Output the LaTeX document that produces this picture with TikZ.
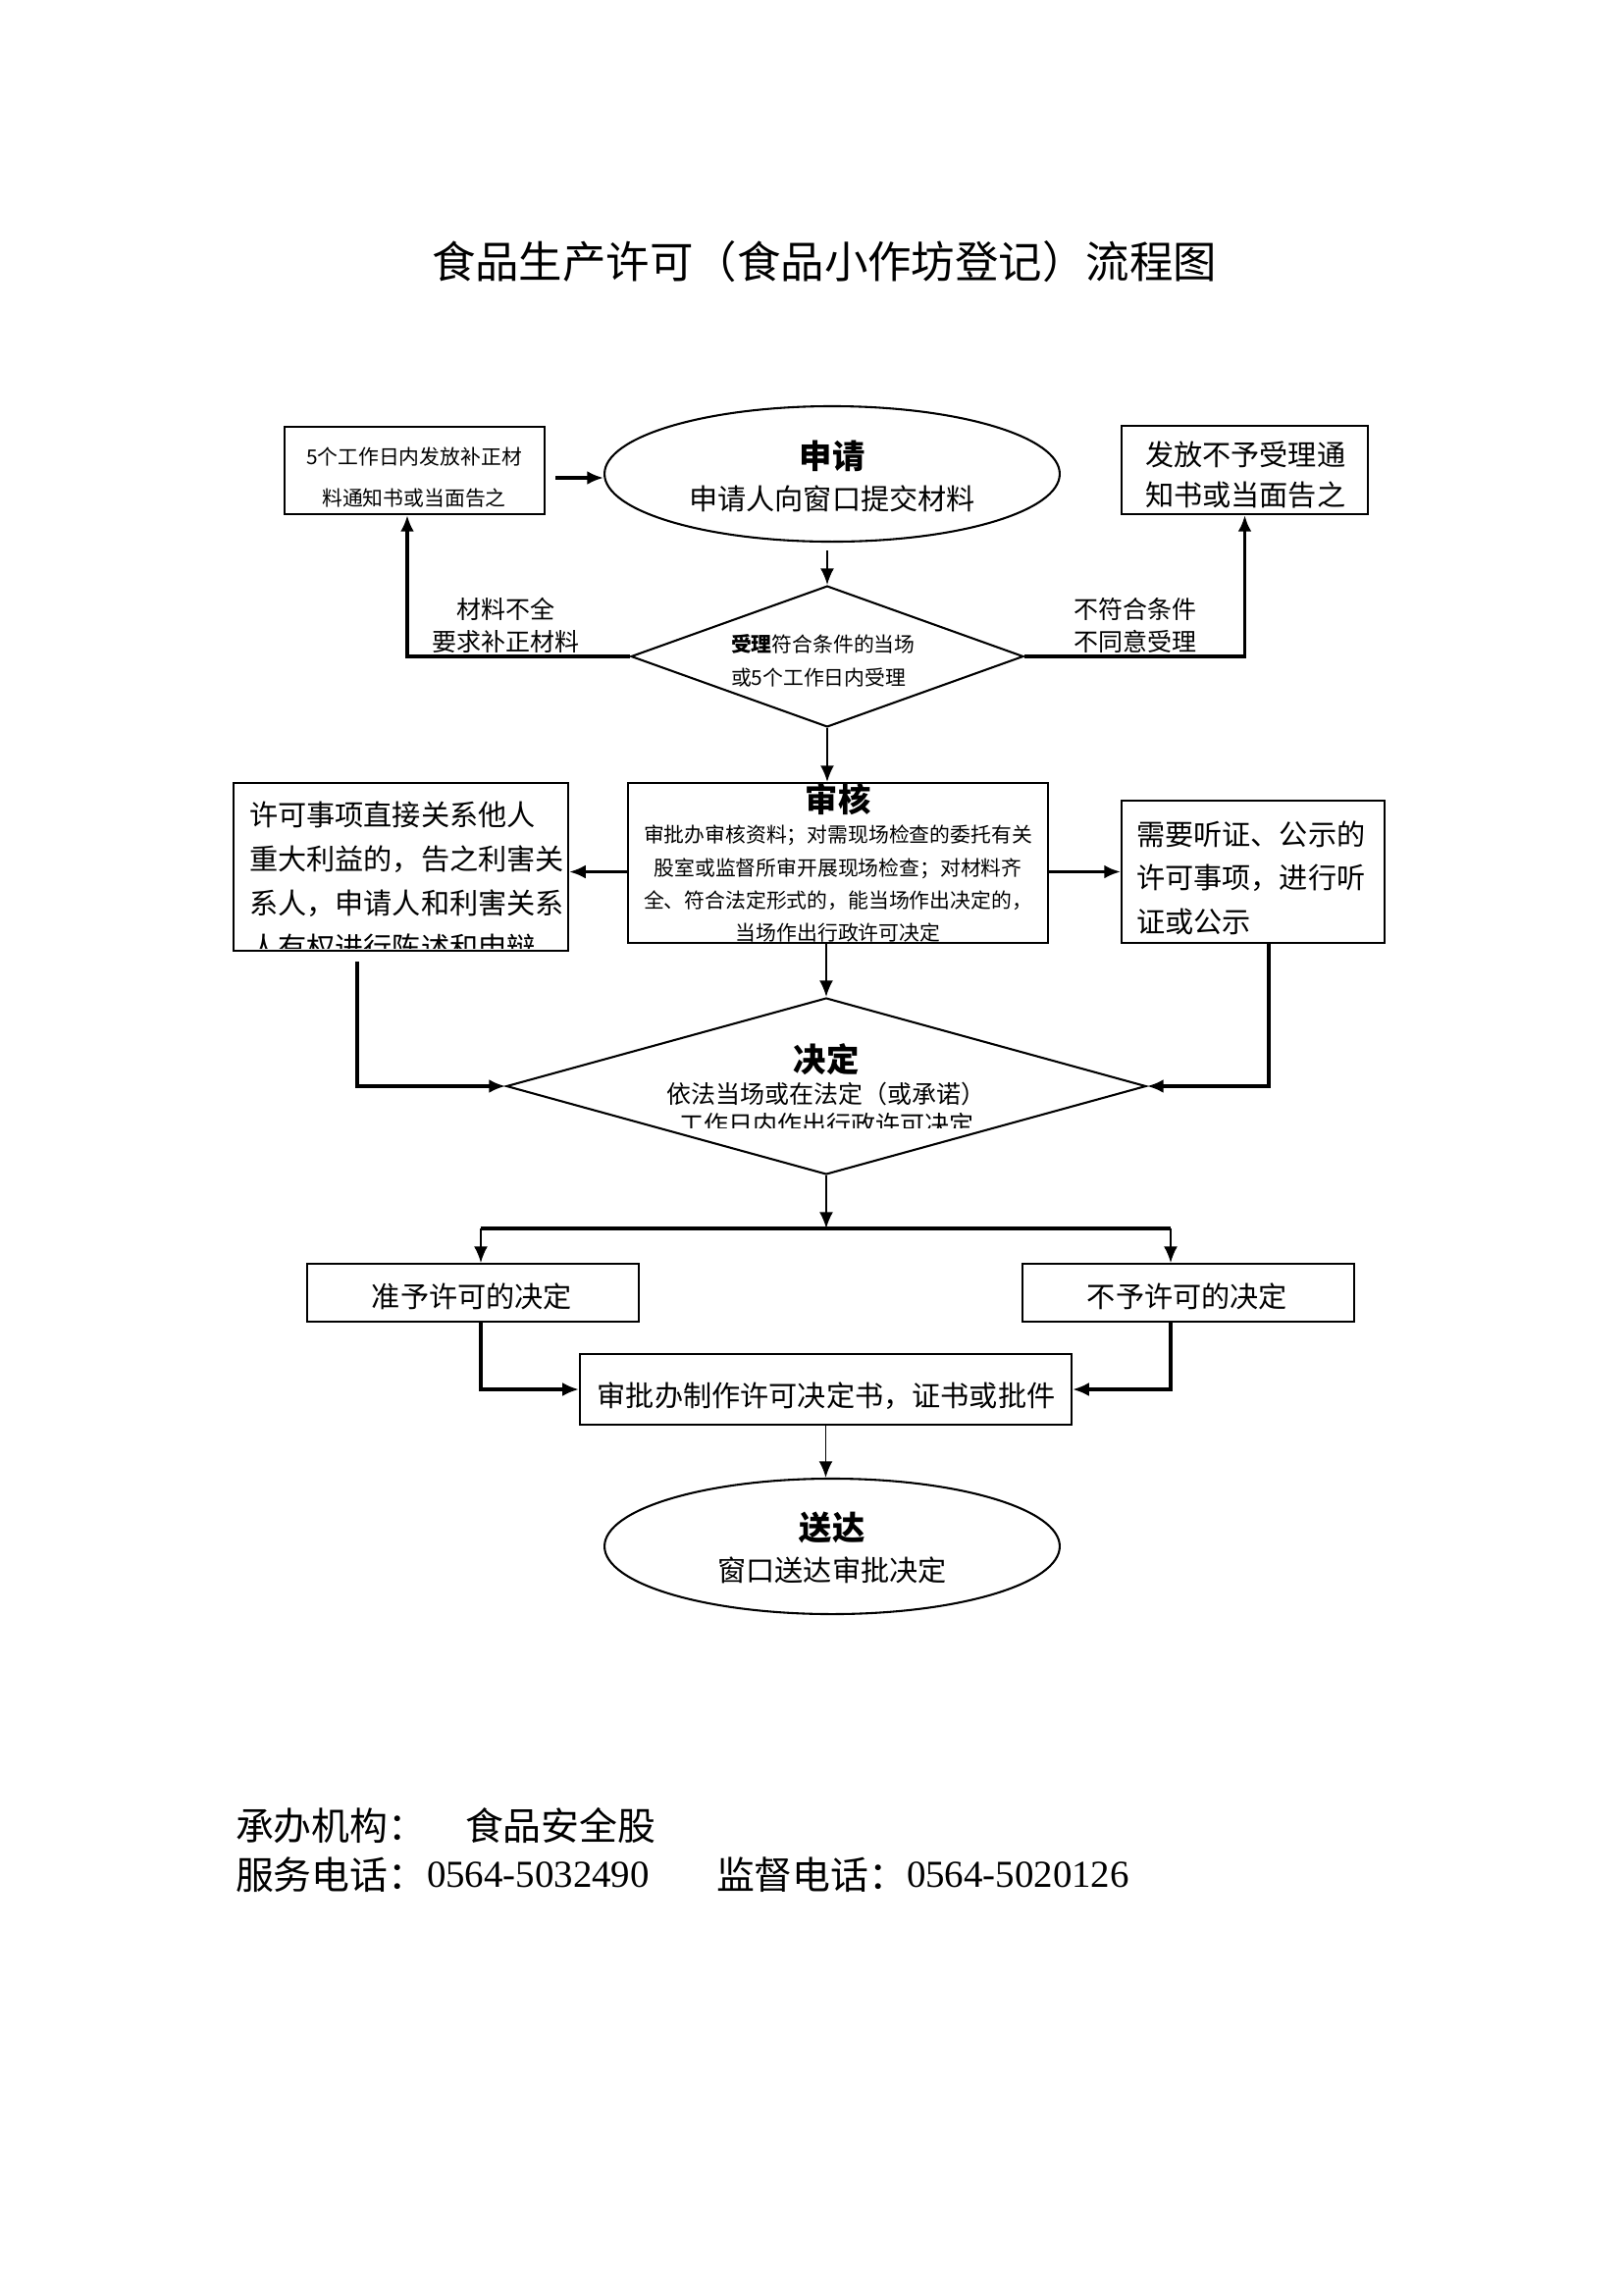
\documentclass[tikz,border=0pt]{standalone}
\usepackage{fontspec}
\setmainfont{Noto Sans CJK SC}
\newfontfamily\digitfont{Liberation Serif}
\usetikzlibrary{shapes.geometric,arrows.meta,calc}
\begin{document}
\begin{tikzpicture}[x=0.36pt,y=-0.36pt,
  box/.style={draw,line width=0.75pt,rectangle,inner sep=0pt},
  oval/.style={draw,line width=0.75pt,ellipse,inner sep=0pt,minimum width=167pt,minimum height=49.7pt},
  dia/.style={draw,line width=0.75pt,diamond,inner sep=0pt},
  txt/.style={inner sep=0pt,outer sep=0pt},
  conn/.style={line width=0.7pt},
  arr/.style={line width=0.7pt,-{Latex[length=6pt,width=5pt]}},
  arrmid/.style={line width=1.1pt,-{Latex[length=6pt,width=5pt]}},
  arrthick/.style={line width=1.4pt,-{Latex[length=6pt,width=5pt]}},
  headfont/.style={font=\fontsize{12}{14}\selectfont\bfseries},
  bodyfont/.style={font=\fontsize{10.5}{12}\selectfont},
]
\useasboundingbox (0,0) rectangle (1654,2339);

% title
\node[txt,font=\fontsize{16}{18}\selectfont] (title) at (840,267) {食品生产许可（食品小作坊登记）流程图};

% shapes
\node[box,minimum width=95.4pt,minimum height=32.04pt] (A) at (422.5,479.5) {};
\node[oval] (S1) at (848,483) {};
\node[box,minimum width=90.4pt,minimum height=32.4pt] (B) at (1268.5,479) {};
\node[dia,minimum width=144pt,minimum height=51.8pt] (D1) at (843,669) {};
\node[box,minimum width=154.1pt,minimum height=58.7pt] (C) at (854,879.5) {};
\node[box,minimum width=122.8pt,minimum height=61.6pt] (D) at (408.5,883.5) {};
\node[box,minimum width=96.5pt,minimum height=52.2pt] (E) at (1277,888.5) {};
\node[dia,minimum width=234.7pt,minimum height=64.8pt] (F) at (842,1107) {};
\node[box,minimum width=121.7pt,minimum height=21.2pt] (G) at (482,1317.5) {};
\node[box,minimum width=121.7pt,minimum height=21.2pt] (H) at (1211,1317.5) {};
\node[box,minimum width=180.4pt,minimum height=25.9pt] (I) at (841.5,1416) {};
\node[oval] (J) at (848,1576) {};

% texts
\node[txt,align=center,font=\fontsize{7.5}{15.1}\selectfont] (At) at (422,487) {5个工作日内发放补正材\\料通知书或当面告之};
\node[txt,headfont] (S1h) at (848,465) {申请};
\node[txt,bodyfont] (S1t) at (848,508) {申请人向窗口提交材料};
\node[txt,anchor=west,align=left,font=\fontsize{10.5}{15.1}\selectfont] (Bt) at (1167,484) {发放不予受理通\\知书或当面告之};
\node[txt,align=center,font=\fontsize{9}{11.9}\selectfont] (La) at (515,637.5) {材料不全\\要求补正材料};
\node[txt,anchor=west,align=left,font=\fontsize{9}{11.9}\selectfont] (Lb) at (1094,637.5) {不符合条件\\不同意受理};
\node[txt,anchor=west,align=left,font=\fontsize{7.5}{12.2}\selectfont] (D1t) at (745,673) {\textbf{受理}符合条件的当场\\或5个工作日内受理};
\node[txt,headfont] (Ch) at (854,815) {审核};
\node[txt,align=center,font=\fontsize{7.5}{12}\selectfont] (Ct) at (854,901) {审批办审核资料；对需现场检查的委托有关\\股室或监督所审开展现场检查；对材料齐\\全、符合法定形式的，能当场作出决定的，\\当场作出行政许可决定};
\begin{scope}
\clip ([xshift=0.4pt,yshift=-0.4pt]D.north west) rectangle ([xshift=-0.4pt,yshift=1.2pt]D.south east);
\node[txt,anchor=west,align=left,font=\fontsize{10.5}{16.2}\selectfont] (Dt) at (254,897.5) {许可事项直接关系他人\\重大利益的，告之利害关\\系人，申请人和利害关系\\人有权进行陈述和申辩};
\end{scope}
\node[txt,anchor=west,align=left,font=\fontsize{10.5}{16}\selectfont] (Et) at (1158,894.5) {需要听证、公示的\\许可事项，进行听\\证或公示};
\node[txt,headfont] (Fh) at (842,1080) {决定};
\begin{scope}
\clip (500,1000) rectangle (1180,1149);
\node[txt,align=center,font=\fontsize{9}{11.2}\selectfont] (Ft) at (842,1130.5) {依法当场或在法定（或承诺）\\工作日内作出行政许可决定};
\end{scope}
\node[txt,bodyfont] (Gt) at (481,1321) {准予许可的决定};
\node[txt,bodyfont] (Ht) at (1210,1321) {不予许可的决定};
\node[txt,bodyfont] (It) at (842,1423) {审批办制作许可决定书，证书或批件};
\node[txt,headfont] (Jh) at (848,1557) {送达};
\node[txt,bodyfont] (Jt) at (848,1600) {窗口送达审批决定};

% footer
\node[txt,anchor=west,font=\fontsize{14}{16}\selectfont] (f1) at (240,1861) {承办机构：};
\node[txt,anchor=west,font=\fontsize{14}{16}\selectfont] (f2) at (474,1861) {食品安全股};
\node[txt,anchor=west,font=\fontsize{14}{16}\selectfont] (f3) at (240,1911) {服务电话：};
\node[txt,anchor=west,font=\fontsize{14}{16}\digitfont] (f4) at (435,1911) {0564-5032490};
\node[txt,anchor=west,font=\fontsize{14}{16}\selectfont] (f5) at (730,1911) {监督电话：};
\node[txt,anchor=west,font=\fontsize{14}{16}\digitfont] (f6) at (924,1911) {0564-5020126};

% connectors
\coordinate (a1) at (566,487);
\draw[arrmid] (a1) -- (S1.west |- a1);
\draw[arr] ($(S1.south -| D1.north)+(0,8)$) -- (D1.north);
\draw[arrthick] (D1.west) -| ([xshift=-2.7pt]A.south);
\draw[arrthick] (D1.east) -| (B.south);
\draw[arr] (D1.south) -- (D1.south |- C.north);
\draw[arrmid] (C.west |- E.west) -- (D.east |- E.west);
\draw[arrmid] (C.east |- E.west) -- (E.west);
\draw[arr] (C.south -| F.north) -- (F.north);
\coordinate (dstart) at (364,980);
\draw[arrmid] (dstart) |- (F.west);
\draw[arrmid] ([xshift=5.76pt]E.south) |- (F.east);
\coordinate (br) at (842,1252);
\coordinate (gl) at (490,1252);
\coordinate (hr) at (1193,1252);
\draw[arr] (F.south) -- (br);
\draw[line width=1.4pt] (gl) -- (hr);
\draw[arr] (gl) -- (gl |- G.north);
\draw[arr] (hr) -- (hr |- H.north);
\draw[arrmid] (gl |- G.south) |- (I.west);
\draw[arrmid] (hr |- H.south) |- (I.east);
\draw[arr] (I.south) -- (I.south |- J.north);
\end{tikzpicture}
\end{document}
